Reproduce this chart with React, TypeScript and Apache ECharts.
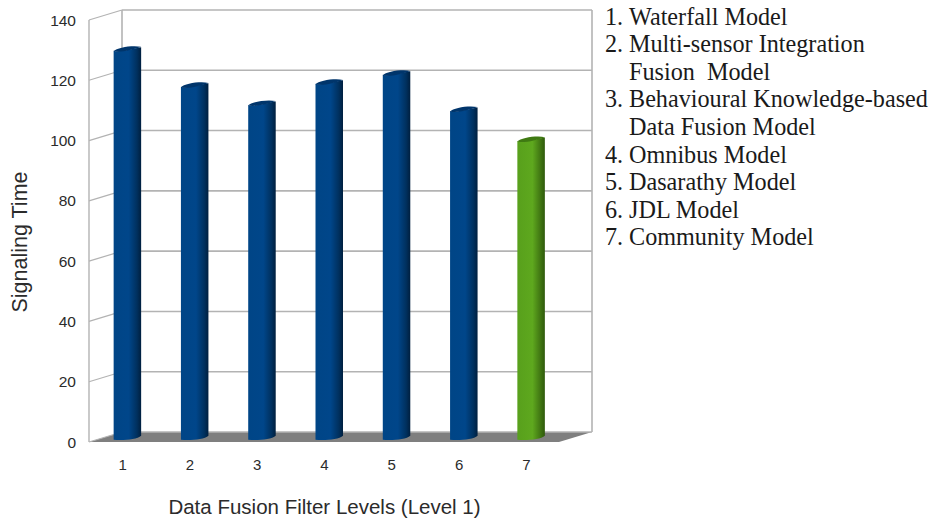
import React, { useEffect, useRef } from "react";
import * as echarts from "echarts";

const categories = ["1", "2", "3", "4", "5", "6", "7"];
const signalingTime = [129, 117, 111, 118, 121, 109, 99];
const yTicks = [0, 20, 40, 60, 80, 100, 120, 140];
const legendNumbers = ["1.", "2.", "", "3.", "", "4.", "5.", "6.", "7."];
const legendLines = [
  "Waterfall Model",
  "Multi-sensor Integration",
  "Fusion  Model",
  "Behavioural Knowledge-based",
  "Data Fusion Model",
  "Omnibus Model",
  "Dasarathy Model",
  "JDL Model",
  "Community Model",
];
const DEPTH_X = 33;
const DEPTH_Y = 10;
const GRID_COLOR = "#b3b3b3";
const TEXT_COLOR = "#2b2b2b";
const HIGHLIGHT_INDEX = 6;

const renderBar = (params: any, api: any) => {
  const i = api.value(0);
  const v = api.value(1);
  const top = api.coord([i, v]);
  const bottom = api.coord([i, 0]);
  const l = top[0] - 9;
  const r = top[0] + 18.5;
  const t = top[1] - 2.5;
  const b = bottom[1] - 3;
  const green = i === HIGHLIGHT_INDEX;
  const stops = green
    ? [
        [0, "#58a01c"],
        [0.55, "#5ea81e"],
        [0.85, "#3f7412"],
        [1, "#2f5a0c"],
      ]
    : [
        [0, "#004586"],
        [0.55, "#00468a"],
        [0.85, "#00305e"],
        [1, "#001f3f"],
      ];
  const body = `M${l} ${t}L${l} ${b}C${l + 8} ${b + 1} ${r - 4} ${b} ${r} ${b - 4}L${r} ${t - 3.5}C${r - 8} ${t - 2.5} ${l + 6} ${t + 2} ${l} ${t}Z`;
  const cap = `M${l} ${t}C${l + 3} ${t - 3} ${r - 8} ${t - 5} ${r} ${t - 3.5}C${r - 8} ${t - 1} ${l + 6} ${t + 1.5} ${l} ${t}Z`;
  return {
    type: "group",
    children: [
      {
        type: "path",
        shape: { pathData: body, x: l, y: t - 3.5, width: r - l, height: b - t + 4.5, layout: "cover" },
        style: {
          fill: new echarts.graphic.LinearGradient(
            0, 0, 1, 0,
            stops.map(([offset, color]) => ({ offset: offset as number, color: color as string }))
          ),
        },
      },
      {
        type: "path",
        shape: { pathData: cap, x: l, y: t - 4.5, width: r - l, height: 5.5, layout: "cover" },
        style: { fill: green ? "#3f7a12" : "#00356b" },
      },
    ],
  };
};

const renderWall = (params: any, api: any) => {
  const v = api.value(0);
  const p = api.coord([0, v]);
  const sys = params.coordSys;
  const x0 = sys.x;
  const x1 = sys.x + DEPTH_X;
  const x2 = sys.x + sys.width + DEPTH_X - 1;
  const y = p[1];
  const bottom = sys.y + sys.height;
  const children: any[] = [
    {
      type: "line",
      shape: { x1: x0, y1: y, x2: x1, y2: y - DEPTH_Y },
      style: { stroke: GRID_COLOR, lineWidth: 1.2 },
    },
    {
      type: "line",
      shape: { x1, y1: y - DEPTH_Y, x2, y2: y - DEPTH_Y },
      style: { stroke: GRID_COLOR, lineWidth: 1.6 },
    },
  ];
  if (v === 0) {
    children.unshift({
      type: "polygon",
      shape: {
        points: [
          [x0, bottom],
          [x1, bottom - DEPTH_Y],
          [x2, bottom - DEPTH_Y],
          [x2 - DEPTH_X, bottom],
        ],
      },
      style: { fill: "#7f7f7f" },
    });
    children.push(
      { type: "line", shape: { x1: x0, y1: sys.y, x2: x0, y2: bottom }, style: { stroke: GRID_COLOR, lineWidth: 1.4 } },
      { type: "line", shape: { x1, y1: sys.y - DEPTH_Y, x2: x1, y2: bottom - DEPTH_Y }, style: { stroke: GRID_COLOR, lineWidth: 1.6 } },
      { type: "line", shape: { x1: x2, y1: sys.y - DEPTH_Y, x2, y2: bottom - DEPTH_Y }, style: { stroke: GRID_COLOR, lineWidth: 1.6 } }
    );
  }
  return { type: "group", children };
};

export default function App() {
  const ref = useRef<HTMLDivElement>(null);
  useEffect(() => {
    const chart = echarts.init(ref.current!, null, { renderer: "svg" });
    const serif = "Liberation Serif";
    const sans = "Liberation Sans";
    chart.setOption({
      animation: false,
      backgroundColor: "#ffffff",
      textStyle: { fontFamily: sans },
      grid: { left: 89, top: 20, width: 471, height: 422, outerBoundsMode: "none" },
      xAxis: {
        type: "category",
        data: categories,
        axisLine: { show: false },
        axisTick: { show: false },
        axisLabel: { color: TEXT_COLOR, fontSize: 15, margin: 15, fontFamily: sans },
        name: "Data Fusion Filter Levels (Level 1)",
        nameLocation: "middle",
        nameGap: 54,
        nameTextStyle: { color: TEXT_COLOR, fontSize: 20.5, fontFamily: sans },
      },
      yAxis: {
        type: "value",
        min: 0,
        max: 140,
        interval: 20,
        axisLine: { show: false },
        axisTick: { show: false },
        splitLine: { show: false },
        axisLabel: { color: TEXT_COLOR, fontSize: 15.5, margin: 13, fontFamily: sans },
        name: "Signaling Time",
        nameLocation: "middle",
        nameGap: 58,
        nameTextStyle: { color: TEXT_COLOR, fontSize: 21.5, fontFamily: sans, padding: [0, 22, 0, 0] },
      },
      series: [
        {
          type: "custom",
          z: 1,
          silent: true,
          renderItem: renderWall,
          encode: { y: 0 },
          data: yTicks.map((v) => [v]),
        },
        {
          type: "custom",
          z: 2,
          silent: true,
          renderItem: renderBar,
          encode: { x: 0, y: 1 },
          data: signalingTime.map((v, i) => [i, v]),
        },
      ],
      graphic: [
        ...legendLines.map((line, i) => ({
          type: "text",
          x: 629,
          y: 16 + i * 27.6,
          style: { text: line, fontFamily: serif, fontSize: 24.2, fill: "#1a1a1a", textVerticalAlign: "middle" },
        })),
        ...legendNumbers
          .map((n, i) => ({ n, i }))
          .filter((d) => d.n)
          .map((d) => ({
            type: "text",
            x: 605,
            y: 16 + d.i * 27.6,
            style: { text: d.n, fontFamily: serif, fontSize: 24.2, fill: "#1a1a1a", textVerticalAlign: "middle" },
          })),
      ],
    });
    return () => chart.dispose();
  }, []);
  return <div ref={ref} style={{ position: "fixed", left: 0, top: 0, width: 931, height: 518 }} />;
}
